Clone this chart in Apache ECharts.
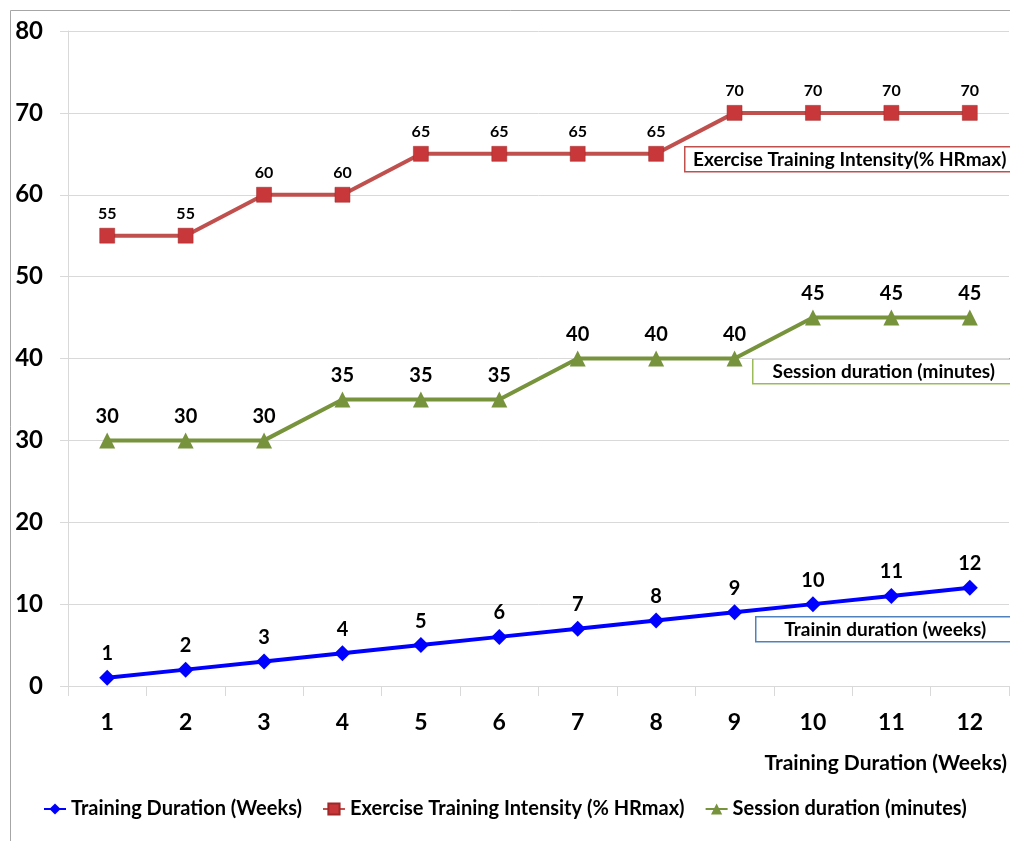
<!DOCTYPE html>
<html>
<head>
<meta charset="utf-8">
<script src="https://cdn.jsdelivr.net/npm/echarts@6/dist/echarts.min.js"></script>
<style>
  html, body { margin: 0; padding: 0; background: #fff; }
  #chart { width: 1010px; height: 841px; }
</style>
</head>
<body>
<div id="chart"></div>
<script>
// 数据
var weeks = ["1", "2", "3", "4", "5", "6", "7", "8", "9", "10", "11", "12"];
var trainingDuration = [1, 2, 3, 4, 5, 6, 7, 8, 9, 10, 11, 12];
var intensity = [55, 55, 60, 60, 65, 65, 65, 65, 70, 70, 70, 70];
var sessionDuration = [30, 30, 30, 35, 35, 35, 40, 40, 40, 45, 45, 45];
var seriesNames = [
  "Training Duration (Weeks)",
  "Exercise Training Intensity (% HRmax)",
  "Session duration (minutes)"
];

var font = "Lato, 'Open Sans', sans-serif";
var gridColor = "#D9D9D9";

var myChart = echarts.init(document.getElementById("chart"));

// 图中的文字框
function labelBox(text, left, top, w, color) {
  return {
    type: "group",
    left: left,
    top: top,
    children: [
      {
        type: "rect",
        shape: { x: 0, y: 0, width: w, height: 25 },
        style: { fill: "#fff", stroke: color, lineWidth: 1.5 }
      },
      {
        type: "text",
        x: w / 2,
        y: 13,
        style: {
          text: text,
          fill: "#000",
          font: "bold 19px " + font,
          textAlign: "center",
          textVerticalAlign: "middle"
        }
      }
    ]
  };
}

var options = {
  animation: false,
  textStyle: { fontFamily: font },
  grid: { left: 68, right: 0, top: 31, bottom: 155 },
  legend: {
    left: 38,
    top: 794,
    width: 970,
    itemGap: 20,
    itemWidth: 22,
    itemHeight: 14,
    textStyle: { fontSize: 20, fontWeight: "bold", color: "#000", fontFamily: font },
    data: seriesNames
  },
  xAxis: {
    type: "category",
    data: weeks,
    name: "Training Duration (Weeks)",
    nameLocation: "end",
    nameGap: 0,
    nameTextStyle: {
      fontSize: 21,
      fontWeight: "bold",
      color: "#000",
      align: "right",
      verticalAlign: "top",
      padding: [67, 2, 0, 0]
    },
    axisLine: { lineStyle: { color: gridColor, width: 1 } },
    axisTick: { show: true, length: 10, lineStyle: { color: gridColor } },
    axisLabel: { fontSize: 23, fontWeight: "bold", color: "#000", margin: 25 }
  },
  yAxis: {
    type: "value",
    min: 0,
    max: 80,
    interval: 10,
    axisLine: { show: true, lineStyle: { color: gridColor } },
    axisTick: { show: true, length: 8, lineStyle: { color: gridColor } },
    splitLine: { lineStyle: { color: gridColor } },
    axisLabel: { fontSize: 24, fontWeight: "bold", color: "#000", margin: 25 }
  },
  series: [
    {
      name: seriesNames[0],
      type: "line",
      data: trainingDuration,
      symbol: "diamond",
      symbolSize: 16,
      lineStyle: { color: "#0000FF", width: 4 },
      itemStyle: { color: "#0000FF" },
      label: {
        show: true,
        position: "top",
        distance: 6,
        fontSize: 20,
        fontWeight: "bold",
        color: "#000"
      }
    },
    {
      name: seriesNames[1],
      type: "line",
      data: intensity,
      symbol: "rect",
      symbolSize: 15,
      lineStyle: { color: "#C0504D", width: 4 },
      itemStyle: { color: "#C8373A", borderColor: "#A02828", borderWidth: 0.5 },
      label: {
        show: true,
        position: "top",
        distance: 6,
        fontSize: 16,
        fontWeight: "bold",
        color: "#000"
      }
    },
    {
      name: seriesNames[2],
      type: "line",
      data: sessionDuration,
      symbol: "triangle",
      symbolSize: 16,
      lineStyle: { color: "#77933C", width: 4 },
      itemStyle: { color: "#77933C" },
      label: {
        show: true,
        position: "top",
        distance: 6,
        fontSize: 20,
        fontWeight: "bold",
        color: "#000"
      }
    }
  ],
  graphic: [
    {
      type: "rect",
      left: 8,
      top: 8,
      shape: { x: 0, y: 0, width: 1010, height: 840 },
      style: { fill: "none", stroke: "#A6A6A6", lineWidth: 1 },
      silent: true
    },
    labelBox("Exercise Training Intensity(% HRmax)", 684, 146, 330, "#C0504D"),
    labelBox("Session duration (minutes)", 752, 358, 262, "#9BBB59"),
    labelBox("Trainin duration (weeks)", 755, 616, 259, "#4F81BD")
  ]
};
myChart.setOption(options);
</script>
</body>
</html>
